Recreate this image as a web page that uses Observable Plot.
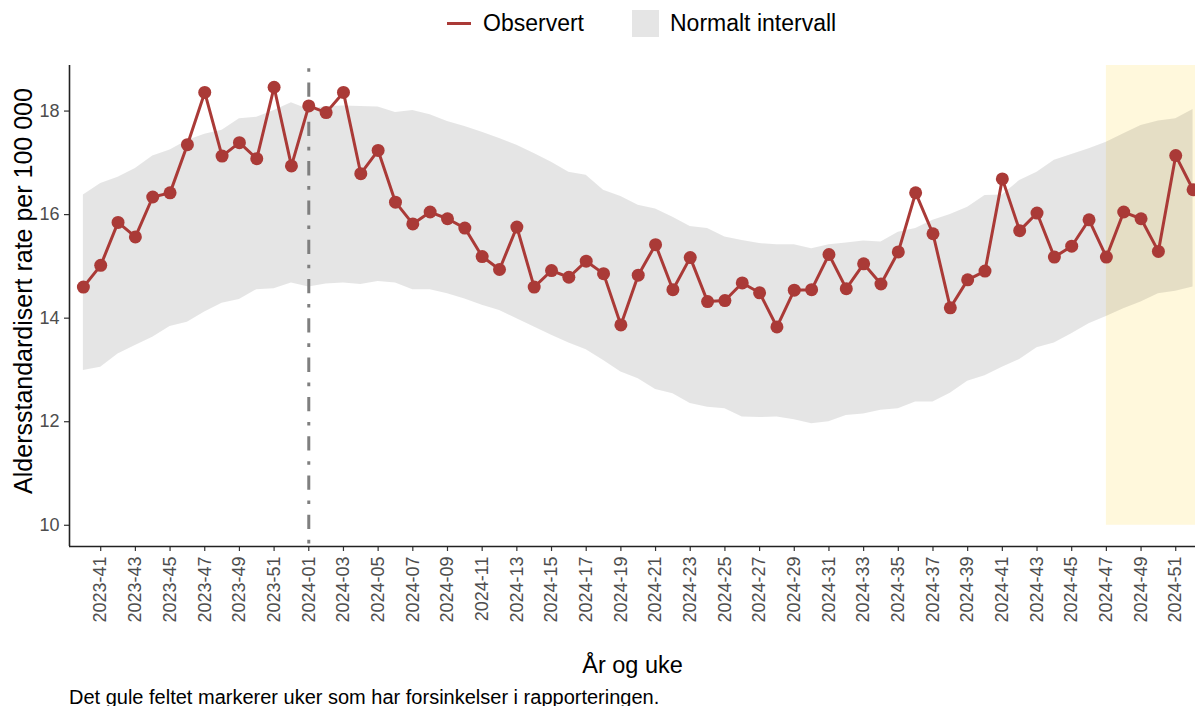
<!DOCTYPE html>
<html>
<head>
<meta charset="utf-8">
<script src="https://cdn.jsdelivr.net/npm/d3@7"></script>
<script src="https://cdn.jsdelivr.net/npm/@observablehq/plot@0.6"></script>
<style>
  html, body { margin: 0; padding: 0; background: #fff; overflow: hidden; }
  body { font-family: "Liberation Sans", Arial, sans-serif; width: 1195px; height: 706px; position: relative; }
  #legend { position: relative; height: 45px; }
  .lg { position: absolute; font-size: 23px; color: #000; line-height: 24px; }
  #caption { position: absolute; left: 69px; top: 686px; font-size: 20px; color: #000; line-height: 22px; white-space: nowrap; }
  svg { display: block; overflow: visible; }
</style>
</head>
<body>
<div id="legend">
  <div style="position:absolute;left:447px;top:21.5px;width:24px;height:3px;background:#aa3a37"></div>
  <div class="lg" style="left:483px;top:11px">Observert</div>
  <div style="position:absolute;left:632px;top:10px;width:27px;height:27px;background:#e5e5e5"></div>
  <div class="lg" style="left:670px;top:11px">Normalt intervall</div>
</div>
<div id="chart"></div>
<div id="caption">Det gule feltet markerer uker som har forsinkelser i rapporteringen.</div>
<script>
const weeks = [
  "2023-40","2023-41","2023-42","2023-43","2023-44","2023-45","2023-46","2023-47","2023-48","2023-49","2023-50","2023-51","2023-52",
  "2024-01","2024-02","2024-03","2024-04","2024-05","2024-06","2024-07","2024-08","2024-09","2024-10",
  "2024-11","2024-12","2024-13","2024-14","2024-15","2024-16","2024-17","2024-18","2024-19","2024-20",
  "2024-21","2024-22","2024-23","2024-24","2024-25","2024-26","2024-27","2024-28","2024-29","2024-30",
  "2024-31","2024-32","2024-33","2024-34","2024-35","2024-36","2024-37","2024-38","2024-39","2024-40",
  "2024-41","2024-42","2024-43","2024-44","2024-45","2024-46","2024-47","2024-48","2024-49","2024-50",
  "2024-51","2024-52"
];
const observed = [
  14.60,15.02,15.85,15.57,16.34,16.42,17.35,18.36,17.13,17.39,17.08,18.46,16.94,
  18.10,17.97,18.36,16.79,17.24,16.24,15.82,16.05,15.92,
  15.74,15.19,14.94,15.76,14.60,14.92,14.79,15.10,14.86,13.87,14.83,15.42,14.55,15.17,14.32,14.34,14.68,14.49,13.83,14.54,14.55,15.23,
  14.57,15.05,14.66,15.28,16.42,15.63,14.20,14.74,14.91,16.69,15.69,16.03,15.18,15.39,15.90,15.18,16.05,15.92,15.29,17.14,16.48
];
const upper = [
  16.38,16.60,16.72,16.89,17.13,17.25,17.43,17.55,17.63,17.85,17.88,18.01,18.16,18.03,18.09,18.10,18.09,18.08,17.97,18.01,17.93,17.80,
  17.70,17.59,17.47,17.34,17.18,17.01,16.82,16.76,16.47,16.35,16.18,16.11,15.95,15.77,15.73,15.57,15.50,15.44,15.42,15.42,15.34,15.42,
  15.45,15.49,15.47,15.66,15.73,15.89,16.00,16.14,16.37,16.38,16.66,16.82,17.05,17.16,17.27,17.40,17.56,17.72,17.81,17.85,18.03
];
const lower = [
  12.99,13.05,13.31,13.47,13.63,13.84,13.92,14.12,14.29,14.36,14.55,14.57,14.68,14.60,14.66,14.68,14.65,14.71,14.68,14.55,14.55,14.47,
  14.37,14.25,14.15,13.99,13.83,13.67,13.52,13.39,13.18,12.96,12.83,12.62,12.54,12.35,12.28,12.25,12.09,12.08,12.09,12.04,11.96,12.00,
  12.12,12.15,12.22,12.25,12.38,12.38,12.55,12.78,12.89,13.05,13.20,13.43,13.52,13.70,13.89,14.03,14.18,14.31,14.47,14.52,14.60
];
const delayedWeeks = ["2024-47","2024-48","2024-49","2024-50","2024-51","2024-52"];
const yearStartWeek = "2024-01";
const yTicks = [10, 12, 14, 16, 18];
const tickWeeks = weeks.filter(w => +w.slice(5) % 2 === 1);

const RED = "#aa3a37";
const data = weeks.map((w, i) => ({i, week: w, obs: observed[i], lo: lower[i], hi: upper[i]}));
const idx = w => weeks.indexOf(w);

const xDomain = [-0.80, 64.14];
const yDomain = [9.59, 18.88];

const plot = Plot.plot({
  width: 1195,
  height: 640,
  marginLeft: 69,
  marginRight: 0,
  marginTop: 20,
  marginBottom: 139,
  style: {fontFamily: "Liberation Sans, Arial, sans-serif", background: "transparent", overflow: "visible"},
  x: {type: "linear", domain: xDomain, axis: null},
  y: {type: "linear", domain: yDomain, axis: null},
  marks: [
    Plot.rect([{x1: idx(delayedWeeks[0]), x2: idx(delayedWeeks[delayedWeeks.length - 1]) + 1, y1: yTicks[0], y2: yDomain[1]}],
      {x1: "x1", x2: "x2", y1: "y1", y2: "y2", fill: "#fff8dc"}),
    Plot.areaY(data, {x: "i", y1: "lo", y2: "hi", fill: "black", fillOpacity: 0.1}),
    Plot.ruleX([idx(yearStartWeek)], {stroke: "#7f7f7f", strokeWidth: 3, strokeDasharray: "3.6,10.7,14.3,10.7", strokeDashoffset: 36.1}),
    Plot.line(data, {x: "i", y: "obs", stroke: RED, strokeWidth: 3}),
    Plot.dot(data, {x: "i", y: "obs", r: 6.5, fill: RED, stroke: "none"}),
    Plot.axisY({ticks: yTicks, tickSize: 5, tickPadding: 5, fontSize: 18, fill: "#4d4d4d", stroke: "#333", strokeWidth: 1.2, label: null}),
    Plot.axisX({ticks: tickWeeks.map(idx), tickFormat: i => weeks[i], tickRotate: -90, tickSize: 5, tickPadding: 5, fontSize: 18, fill: "#4d4d4d", stroke: "#333", strokeWidth: 1.2, label: null}),
    Plot.ruleX([xDomain[0]], {stroke: "#222", strokeWidth: 1.6}),
    Plot.ruleY([yDomain[0]], {stroke: "#222", strokeWidth: 1.6}),
    Plot.text(["År og uke"], {frameAnchor: "bottom", dy: 126, fontSize: 23.5, fill: "#000"}),
    Plot.text(["Aldersstandardisert rate per 100 000"], {frameAnchor: "left", textAnchor: "middle", rotate: -90, dx: -46, dy: -15, fontSize: 25, fill: "#000"})
  ]
});
document.getElementById("chart").appendChild(plot);
</script>
</body>
</html>
